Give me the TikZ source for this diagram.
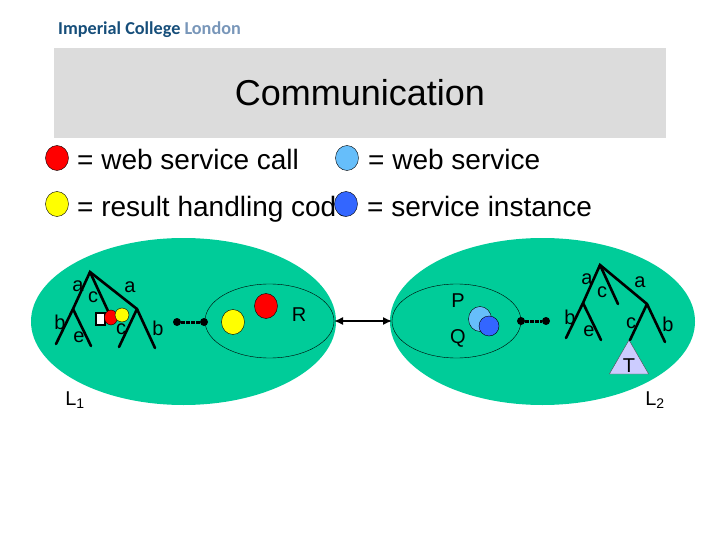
\documentclass[tikz,border=0pt]{standalone}
\usepackage{fontspec}
\setmainfont{Liberation Sans}
\newfontfamily\logofont{Carlito}
\usetikzlibrary{arrows.meta,positioning,shapes.geometric}
\definecolor{slate}{RGB}{220,220,220}
\definecolor{domain}{RGB}{0,204,153}
\definecolor{callred}{RGB}{255,0,0}
\definecolor{handleryellow}{RGB}{255,255,0}
\definecolor{servicesky}{RGB}{102,190,250}
\definecolor{instanceblue}{RGB}{51,102,255}
\definecolor{treelilac}{RGB}{204,204,255}
\definecolor{logoblue}{RGB}{22,78,122}
\definecolor{logopale}{RGB}{120,150,185}
\tikzset{
  blob/.style={ellipse,draw=black,inner sep=0pt,outer sep=0pt,thin,
               minimum width=23pt,minimum height=25pt},
  callblob/.style={blob,fill=callred},
  resultblob/.style={blob,fill=handleryellow},
  serviceblob/.style={blob,fill=servicesky},
  instanceblob/.style={blob,fill=instanceblue},
  domainshape/.style={ellipse,fill=domain,inner sep=0pt,outer sep=0pt,
               minimum width=305pt,minimum height=167pt},
  peershape/.style={ellipse,draw=black,thin,inner sep=0pt,outer sep=0pt,
               minimum width=129pt,minimum height=74pt},
  legend/.style={font=\fontsize{28}{32}\selectfont,inner sep=0pt},
  tag/.style={font=\fontsize{20}{22}\selectfont,inner sep=0pt},
  dot/.style={circle,fill=black,inner sep=0pt,outer sep=0pt,minimum size=8pt},
  branch/.style={line width=2.6pt,line cap=round},
  wire/.style={line width=3pt,draw=black,dash pattern=on 3.5pt off 1.5pt},
  link/.style={{Latex[length=9pt,width=8pt]}-{Latex[length=9pt,width=8pt]},line width=1.5pt}
}
\begin{document}
\begin{tikzpicture}[x=1pt,y=-1pt]
  \useasboundingbox (0,0) rectangle (720,540);
  \node[anchor=west,inner sep=0pt,font=\logofont\bfseries\fontsize{18.2}{20}\selectfont] (logo)
    at (58,30) {\textcolor{logoblue}{Imperial College} \textcolor{logopale}{London}};
  \node[fill=slate,inner sep=0pt,minimum width=612pt,minimum height=90pt] (titlebar) at (360,93) {};
  \node[font=\fontsize{36}{40}\selectfont,inner sep=0pt] (title) at (360,93) {Communication};

  % legend
  \node[legend,anchor=base west] (tred) at (77,170) {= web service call};
  \node[legend,anchor=base west] (tyellow) at (77,216) {= result handling code};
  \node[legend,anchor=base west] (tsky) at (368,170) {= web service};
  \node[legend,anchor=base west] (tblue) at (367,216) {= service instance};
  \node[callblob] (lred) at (57,158) {};
  \node[resultblob] (lyellow) at (57,204) {};
  \node[serviceblob] (lsky) at (347,158) {};
  \node[instanceblob] (lblue) at (346,204) {};

  \node[domainshape] (lone) at (183.5,321.5) {};
  \node[domainshape] (ltwo) at (542.5,321.5) {};
  \node[peershape] (peerl) at (269.5,321) {};
  \node[peershape] (peerr) at (456.5,321) {};
  \draw[link] (peerl.east) -- (peerr.west);

  % left tree
  \coordinate (atop) at (90,272);
  \coordinate (aleft) at (73,309);
  \coordinate (aright) at (137,309);
  \coordinate (cend) at (108,311);
  \coordinate (bend) at (56,344);
  \coordinate (eend) at (91,346);
  \coordinate (dend) at (119,347);
  \coordinate (fend) at (155,348);
  \draw[branch] (bend) -- (aleft) -- (atop) -- (aright) -- (fend);
  \draw[branch] (aleft) -- (eend);
  \draw[branch] (atop) -- (cend);
  \draw[branch] (aright) -- (dend);
  \node[tag] at (78,286) {a};
  \node[tag] at (93,297) {c};
  \node[tag] at (130,287) {a};
  \node[tag] at (60,322) {b};
  \node[tag] at (79,337) {e};
  \node[tag] at (121,329) {c};
  \node[tag] at (158,328) {b};
  \node[draw=black,fill=white,line width=2.6pt,minimum width=9pt,minimum height=12pt,inner sep=0pt] (frame) at (100.5,319) {};
  \node[callblob,minimum width=13pt,minimum height=15pt] (tinyred) at (111,317.5) {};
  \node[resultblob,minimum width=14pt,minimum height=14pt] (tinyyellow) at (122,315) {};
  \node[tag] at (75,400) {L\textsubscript{1}};

  % left peer
  \node[resultblob] (pyellow) at (233,322) {};
  \node[callblob] (pred) at (266,306) {};
  \node[tag] at (299,315) {R};
  \node[dot] (dl) at (177,322) {};
  \node[dot] (dlp) at (204,322) {};
  \draw[wire] (dl) -- (dlp);

  % right peer
  \node[tag] at (458,301) {P};
  \node[tag] at (458,338) {Q};
  \node[serviceblob] (qsky) at (480,319) {};
  \node[instanceblob,minimum width=20pt,minimum height=20pt] (qblue) at (489,326) {};
  \node[dot] (dr) at (521,321) {};
  \node[dot] (drp) at (546,321) {};
  \draw[wire] (dr) -- (drp);

  % right tree
  \coordinate (xtop) at (600,265);
  \coordinate (xleft) at (583,303);
  \coordinate (xright) at (647,304);
  \coordinate (xcend) at (618,304);
  \coordinate (xbend) at (566,338);
  \coordinate (xeend) at (601,340);
  \coordinate (xdend) at (630,340);
  \coordinate (xfend) at (665,342);
  \node[draw=black!70,fill=treelilac,thin,isosceles triangle,isosceles triangle apex angle=60,
    shape border rotate=90,inner sep=0pt,outer sep=0pt,minimum height=34pt,anchor=apex] (subtree) at (629,340) {};
  \draw[branch] (xbend) -- (xleft) -- (xtop) -- (xright) -- (xfend);
  \draw[branch] (xleft) -- (xeend);
  \draw[branch] (xtop) -- (xcend);
  \draw[branch] (xright) -- (xdend);
  \node[tag] at (587,279) {a};
  \node[tag] at (602,292) {c};
  \node[tag] at (640,282) {a};
  \node[tag] at (570,317) {b};
  \node[tag] at (589,331) {e};
  \node[tag] at (631,323) {c};
  \node[tag] at (668,324) {b};
  \node[tag] at (629,366) {T};
  \node[tag] at (655,400) {L\textsubscript{2}};
\end{tikzpicture}
\end{document}
